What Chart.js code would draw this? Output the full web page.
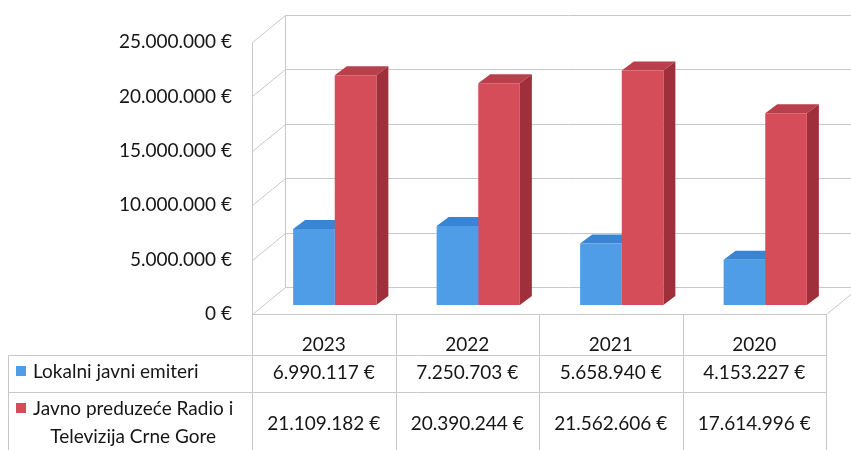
<!DOCTYPE html>
<html>
<head>
  <title>Lokalni javni emiteri i RTCG</title>
  <script src="https://cdn.jsdelivr.net/npm/chart.js"></script>
  <style>
    html, body { margin: 0; padding: 0; background: #ffffff; }
    #wrap { width: 851px; height: 450px; position: relative; }
  </style>
</head>
<body>
  <div id="wrap"><canvas id="fundsChart" width="851" height="450"></canvas></div>
  <script>
    // data
    const years = ['2023', '2022', '2021', '2020'];
    const lokalniEmiteri = [6990117, 7250703, 5658940, 4153227];
    const rtcg = [21109182, 20390244, 21562606, 17614996];
    const seriesLabels = [['Lokalni javni emiteri'], ['Javno preduzeće Radio i', 'Televizija Crne Gore']];
    const yMax = 25000000;
    const yStep = 5000000;

    const FONT = 'Lato, "Open Sans", sans-serif';
    const TEXT = '#161616';
    const GRID = '#c8c8c8';
    const faces = [
      { front: '#4f9ce7', top: '#3a84d4', side: '#2e6cb3' },
      { front: '#d64d5a', top: '#b83f4b', side: '#9f2f3b' }
    ];
    // depth of the walls, and of each bar
    const wall = { dx: 33, dy: -27 };
    const barShift = { dx: 11, dy: -9 };
    const barDepth = { dx: 12, dy: -9 };

    function euro(v) {
      return String(v).replace(/\B(?=(\d{3})+(?!\d))/g, '.') + ' €';
    }

    function line(ctx, x1, y1, x2, y2) {
      ctx.beginPath();
      ctx.moveTo(x1 + 0.5, y1 + 0.5);
      ctx.lineTo(x2 + 0.5, y2 + 0.5);
      ctx.stroke();
    }

    function poly(ctx, pts, color) {
      ctx.fillStyle = color;
      ctx.beginPath();
      pts.forEach((p, i) => i ? ctx.lineTo(p[0], p[1]) : ctx.moveTo(p[0], p[1]));
      ctx.closePath();
      ctx.fill();
    }

    const box3d = {
      id: 'box3d',
      beforeDatasetsDraw(chart) {
        const ctx = chart.ctx;
        const a = chart.chartArea;
        const y = chart.scales.y;
        ctx.save();
        ctx.strokeStyle = GRID;
        ctx.lineWidth = 1;
        y.ticks.forEach(t => {
          const py = Math.round(y.getPixelForValue(t.value));
          line(ctx, a.left, py, a.left + wall.dx, py + wall.dy);
          line(ctx, a.left + wall.dx, py + wall.dy, chart.width + 5, py + wall.dy);
        });
        // back wall left edge, front left edge, floor
        line(ctx, a.left + wall.dx, Math.round(y.getPixelForValue(yMax)) + wall.dy, a.left + wall.dx, Math.round(a.bottom) + wall.dy);
        line(ctx, a.left, Math.round(a.top), a.left, chart.height);
        line(ctx, a.left, Math.round(a.bottom), Math.round(a.right), Math.round(a.bottom));
        line(ctx, Math.round(a.right), Math.round(a.bottom), Math.round(a.right) + wall.dx, Math.round(a.bottom) + wall.dy);
        ctx.restore();

        // bars sit halfway into the box; top and side faces go under the fronts
        ctx.save();
        ctx.translate(barShift.dx, barShift.dy);
        [0, 1].forEach(d => {
          const c = faces[d];
          chart.getDatasetMeta(d).data.forEach(bar => {
            const p = bar.getProps(['x', 'y', 'base', 'width'], true);
            const l = p.x - p.width / 2, r = p.x + p.width / 2;
            poly(ctx, [[l, p.y], [l + barDepth.dx, p.y + barDepth.dy], [r + barDepth.dx, p.y + barDepth.dy], [r, p.y]], c.top);
            poly(ctx, [[r, p.y], [r + barDepth.dx, p.y + barDepth.dy], [r + barDepth.dx, p.base + barDepth.dy], [r, p.base]], c.side);
          });
        });
      },
      afterDatasetsDraw(chart) {
        chart.ctx.restore();
      },
      afterDraw(chart) {
        // data table under the plot
        const ctx = chart.ctx;
        const a = chart.chartArea;
        const x = chart.scales.x;
        const colW = (a.right - a.left) / years.length;
        const rowTops = [355, 392];
        ctx.save();
        ctx.strokeStyle = GRID;
        ctx.lineWidth = 1;
        rowTops.forEach(t => line(ctx, 8, t, Math.round(a.right), t));
        line(ctx, 8, rowTops[0], 8, chart.height);
        for (let i = 1; i <= years.length; i++) {
          const px = Math.round(a.left + i * colW);
          line(ctx, px, Math.round(a.bottom), px, chart.height);
        }

        ctx.font = '19px ' + FONT;
        ctx.fillStyle = TEXT;
        ctx.textBaseline = 'middle';
        const rows = [lokalniEmiteri, rtcg];
        const rowMid = [373, 424];
        rows.forEach((vals, r) => {
          ctx.textAlign = 'center';
          vals.forEach((v, i) => ctx.fillText(euro(v), x.getPixelForValue(i), rowMid[r]));
        });

        // row headers with legend keys
        ctx.fillStyle = faces[0].front;
        ctx.fillRect(16, 366, 10, 10);
        ctx.fillStyle = faces[1].front;
        ctx.fillRect(16, 403, 10, 10);
        ctx.fillStyle = TEXT;
        ctx.textAlign = 'left';
        ctx.fillText(seriesLabels[0][0], 33, 372);
        ctx.fillText(seriesLabels[1][0], 33, 409);
        const w = ctx.measureText(seriesLabels[1][0]).width;
        ctx.textAlign = 'center';
        ctx.fillText(seriesLabels[1][1], 33 + w / 2, 437);
        ctx.restore();
      }
    };

    new Chart(document.getElementById('fundsChart'), {
      type: 'bar',
      data: {
        labels: years,
        datasets: [
          { label: seriesLabels[0].join(' '), data: lokalniEmiteri, backgroundColor: faces[0].front, clip: false },
          { label: seriesLabels[1].join(' '), data: rtcg, backgroundColor: faces[1].front, clip: false }
        ]
      },
      options: {
        responsive: false,
        animation: false,
        devicePixelRatio: 1,
        layout: { padding: { top: 42, right: 25, bottom: 0, left: 0 } },
        datasets: { bar: { categoryPercentage: 0.58, barPercentage: 1 } },
        plugins: { legend: { display: false }, tooltip: { enabled: false } },
        scales: {
          x: {
            grid: { display: false, drawTicks: false },
            border: { display: false },
            ticks: { color: TEXT, font: { family: FONT, size: 19 }, padding: 19, maxRotation: 0 },
            afterFit: s => { s.height = 136; }
          },
          y: {
            min: 0,
            max: yMax,
            grid: { display: false, drawTicks: false },
            border: { display: false },
            ticks: { stepSize: yStep, color: TEXT, font: { family: FONT, size: 19 }, padding: 20, callback: v => euro(v) },
            afterFit: s => { s.width = 252; }
          }
        }
      },
      plugins: [box3d]
    });
  </script>
</body>
</html>
